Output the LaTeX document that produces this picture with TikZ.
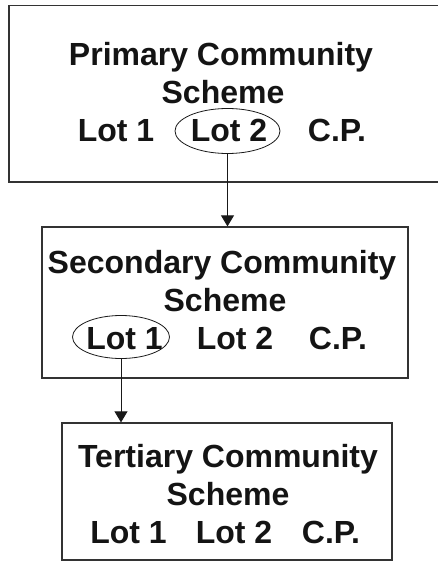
\documentclass[tikz,border=0pt]{standalone}
\usepackage{fontspec}
\setmainfont{Liberation Sans}
\usetikzlibrary{arrows.meta,shapes.geometric}
\begin{document}
\begin{tikzpicture}[x=1pt,y=-1pt,
  box/.style={draw=black!80, line width=1.3pt, rectangle, inner sep=0pt},
  txt/.style={font=\bfseries\fontsize{32}{38}\selectfont, text=black!92, anchor=base, inner sep=0pt},
  ring/.style={draw=black!90, ellipse, line width=0.8pt, inner sep=0pt},
  conn/.style={draw=black!90, line width=0.9pt, -{Triangle[length=11pt,width=13pt]}}]
\useasboundingbox (0,0) rectangle (437,561);
% boxes
\node[box, minimum width=438pt, minimum height=176.5pt] (b1) at (228,93.75) {};
\node[box, minimum width=366pt, minimum height=151pt] (b2) at (225,302.5) {};
\node[box, minimum width=330pt, minimum height=137pt] (b3) at (227,491.5) {};
% ellipses
\node[ring, minimum width=105pt, minimum height=45pt] (e1) at (227.5,131) {};
\node[ring, minimum width=97pt, minimum height=43pt] (e2) at (121,337) {};
% primary
\node[txt] (p1) at (221,66) {Primary Community};
\node[txt] (p2) at (223,103.5) {Scheme};
\node[txt] (pl1) at (116,141.5) {Lot 1};
\node[txt] (pl2) at (229,141.5) {Lot 2};
\node[txt] (pcp) at (337,141.5) {C.P.};
% secondary
\node[txt] (s1) at (222,273) {Secondary Community};
\node[txt] (s2) at (225,311) {Scheme};
\node[txt] (sl1) at (124.5,349) {Lot 1};
\node[txt] (sl2) at (235,349) {Lot 2};
\node[txt] (scp) at (338,349) {C.P.};
% tertiary
\node[txt] (t1) at (228,467) {Tertiary Community};
\node[txt] (t2) at (228,505) {Scheme};
\node[txt] (tl1) at (128.5,543) {Lot 1};
\node[txt] (tl2) at (234,543) {Lot 2};
\node[txt] (tcp) at (331,543) {C.P.};
% connectors
\draw[conn] (e1.south) -- (e1.south |- b2.north);
\draw[conn] (e2.south) -- (e2.south |- b3.north);
\end{tikzpicture}
\end{document}
